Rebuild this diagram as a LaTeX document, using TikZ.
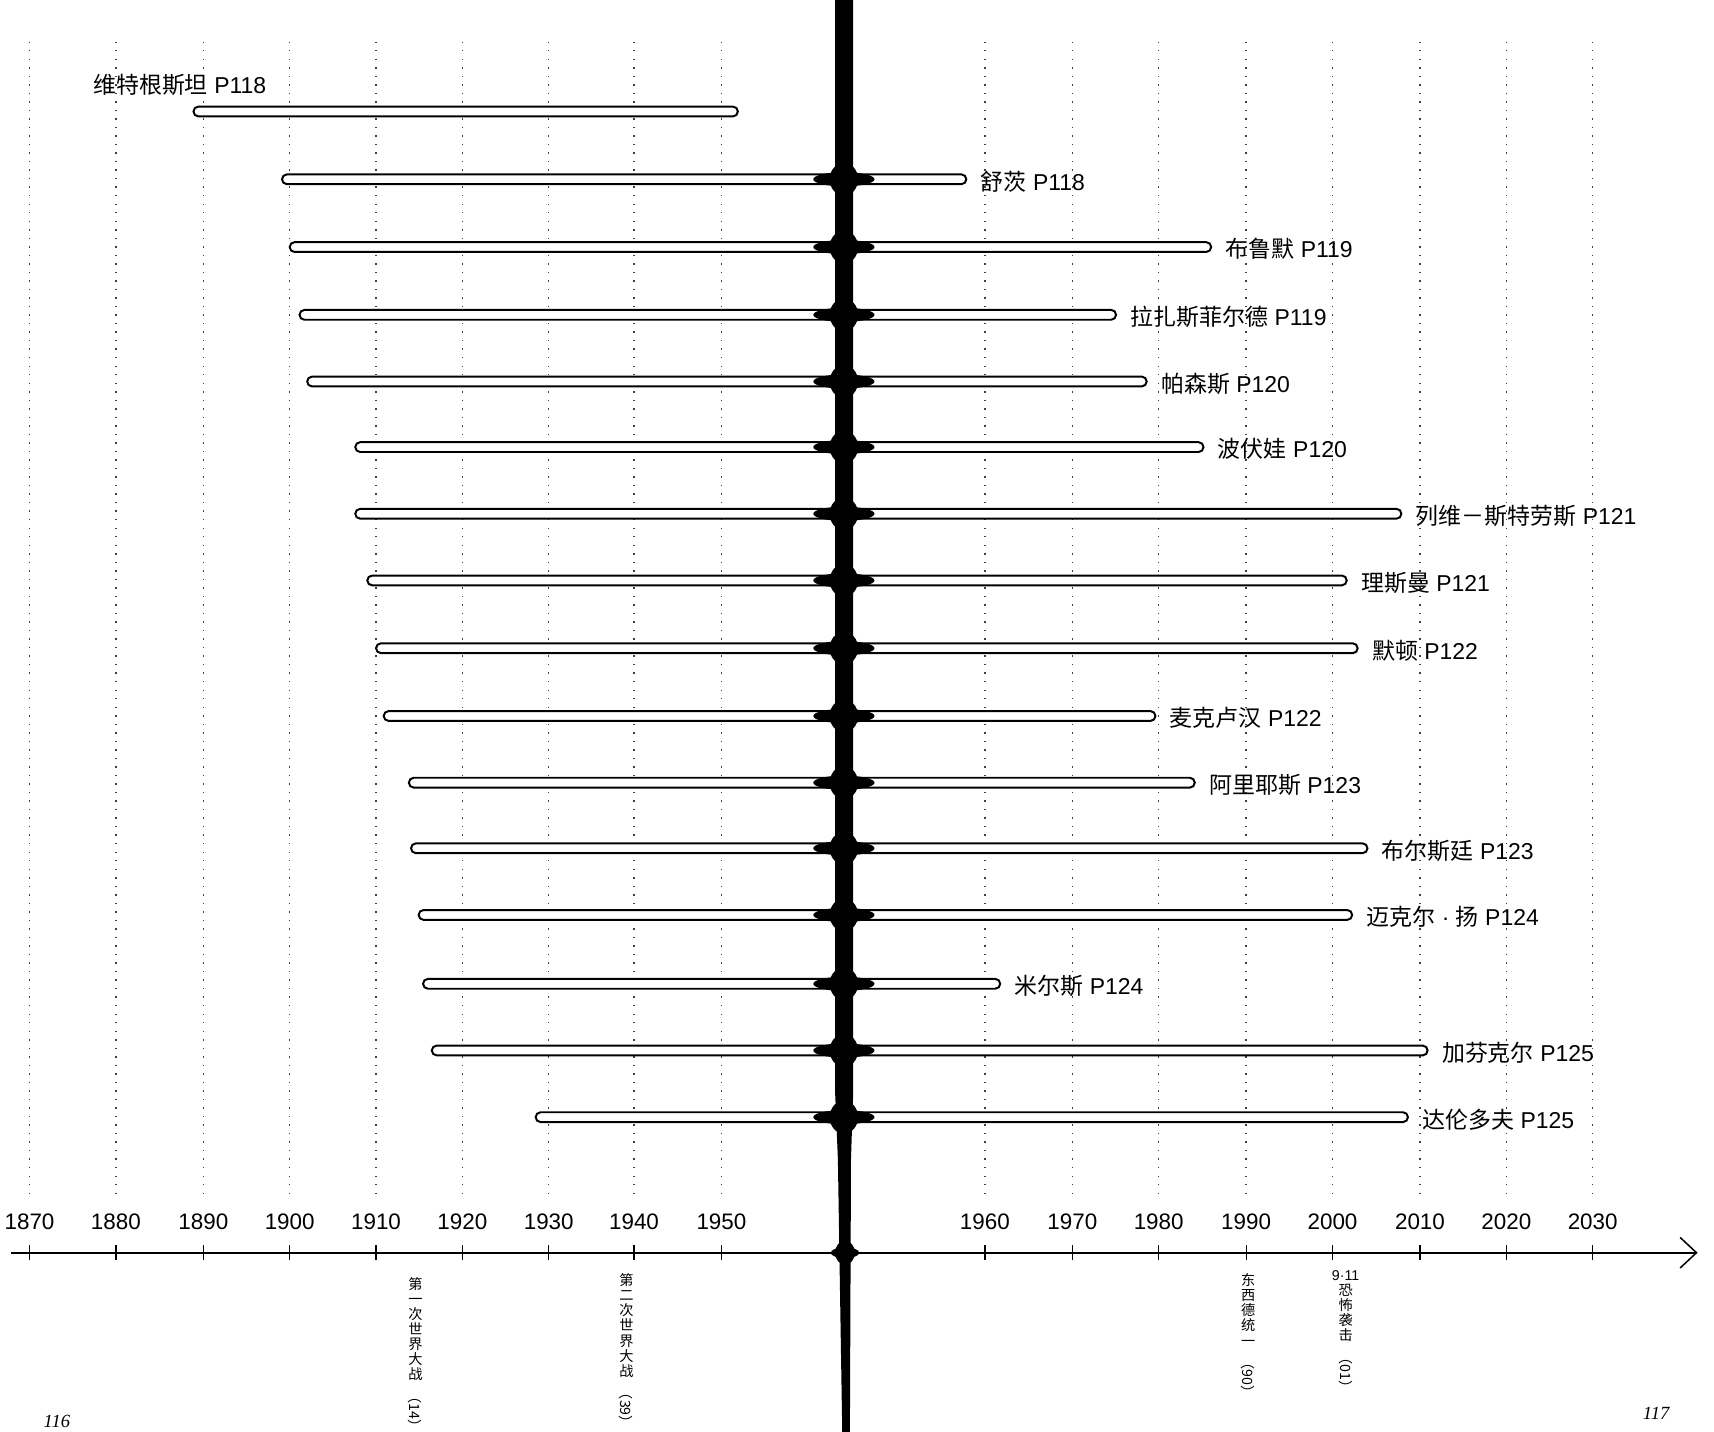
\documentclass[tikz,border=0pt]{standalone}
\usepackage{fontspec}
\setmainfont{Liberation Sans}
\newfontfamily\cjk{Noto Sans CJK SC}
\newfontfamily\pagenofont{Liberation Serif}
\usetikzlibrary{arrows.meta}

\tikzset{
  gridline/.style={line width=1.3pt, dash pattern=on 1.3pt off 6.5pt, black!75},
  lifebar/.style={draw, fill=white, line width=1.8pt, rounded corners=4.5pt},
  yearlbl/.style={font=\fontsize{20.5}{24}\selectfont, inner sep=0pt},
  namelbl/.style={font=\fontsize{21}{25}\selectfont, inner sep=0pt, anchor=west},
  eventlbl/.style={font=\cjk\fontsize{13}{13.8}\selectfont, inner sep=0pt, anchor=north, align=center},
  pagelbl/.style={font=\pagenofont\itshape\fontsize{17}{20}\selectfont, inner sep=0pt},
  timeaxis/.style={line width=1.6pt, -{Straight Barb[length=15pt, width=28pt, line width=1.4pt]}}
}

\begin{document}
\begin{tikzpicture}[x=1pt, y=-1pt]
  \useasboundingbox (0,0) rectangle (1568,1310);

  % decade grid
  \foreach \x in {27,106,186,265,344,423,502,580,660,901,981,1060,1140,1219,1299,1378,1457}
    \draw[gridline] (\x,38) -- (\x,1098);

  % life spans
  \draw[lifebar] (177,97.5) rectangle (675,106.5);
  \node[namelbl] (p0) at (85,78) {{\cjk 维特根斯坦} P118};
  \foreach \y/\l/\r/\nm/\pg [count=\i] in {
      164/258/884/舒茨/118, 226/265/1108/布鲁默/119, 288/274/1021/拉扎斯菲尔德/119,
      349/281/1049/帕森斯/120, 409/325/1101/波伏娃/120, 470/325/1282/列维－斯特劳斯/121,
      531/336/1232/理斯曼/121, 593/344/1242/默顿/122, 655/351/1057/麦克卢汉/122,
      716/374/1093/阿里耶斯/123, 776/376/1251/布尔斯廷/123, 837/383/1237/迈克尔{\rmfamily\ ·\ }扬/124,
      900/387/915/米尔斯/124, 961/395/1306/加芬克尔/125, 1022/490/1288/达伦多夫/125} {
    \draw[lifebar] (\l,\y-4.5) rectangle (\r,\y+4.5);
    \node[namelbl] (p\i) at (\r+13,\y+2) {{\cjk \nm} P\pg};
  }

  % time axis
  \coordinate (axstart) at (10,1146);
  \coordinate (axend) at (1553,1146);
  \draw[timeaxis] (axstart) -- (axend);
  \foreach \x/\yr in {27/1870,106/1880,186/1890,265/1900,344/1910,423/1920,502/1930,580/1940,660/1950,
                      901/1960,981/1970,1060/1980,1140/1990,1219/2000,1299/2010,1378/2020,1457/2030} {
    \draw[line width=1.2pt] (\x,1139) -- (\x,1153);
    \node[yearlbl] (yr\yr) at (\x,1118) {\yr};
  }

  % the present
  \fill (764,0) -- (780.5,0) -- (780.5,1000) -- (778.5,1060) -- (777.5,1310)
        -- (770.5,1310) -- (766.5,1060) -- (764,1000) -- cycle;
  \foreach \y in {164,226,288,349,409,470,531,593,655,716,776,837,900,961,1022} {
    \fill (772,\y) ellipse [x radius=28, y radius=6.5];
    \fill (772,\y) ellipse [x radius=13, y radius=15];
  }
  \fill (773,1146) ellipse [x radius=13, y radius=5];
  \fill (773,1146) ellipse [x radius=9, y radius=11];

  % events
  \node[eventlbl] (ev1) at (380,1168) {第\\一\\次\\世\\界\\大\\战\\[-5pt]\rotatebox{-90}{（14）}};
  \node[eventlbl] (ev2) at (573,1165) {第\\二\\次\\世\\界\\大\\战\\[-5pt]\rotatebox{-90}{（39）}};
  \node[eventlbl] (ev3) at (1142,1165) {东\\西\\德\\统\\一\\[-5pt]\rotatebox{-90}{（90）}};
  \node[eventlbl] (ev4) at (1231,1162) {{\rmfamily 9·11}\\恐\\怖\\袭\\击\\[-5pt]\rotatebox{-90}{（01）}};

  % page numbers
  \node[pagelbl] (pg116) at (52,1300) {116};
  \node[pagelbl] (pg117) at (1515,1293) {117};
\end{tikzpicture}
\end{document}
